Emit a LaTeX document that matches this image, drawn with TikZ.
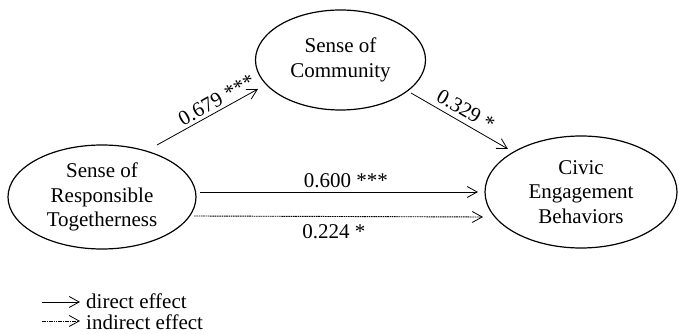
\documentclass[tikz,border=0pt]{standalone}
\usepackage{fontspec}
\setmainfont{Liberation Serif}
\usetikzlibrary{shapes.geometric,arrows.meta,calc}
\begin{document}
\begin{tikzpicture}[x=1pt,y=1pt,
  font=\fontsize{21}{24.5}\selectfont,
  latent/.style={ellipse,draw,line width=1.2pt,align=center,inner sep=0pt},
  effect/.style={line width=0.8pt,-{Straight Barb[length=10pt,width=11pt,line width=0.8pt]}},
  indirect/.style={line width=0.9pt,dash pattern=on 1.6pt off 0.7pt,-{Straight Barb[length=10pt,width=11pt,line width=0.8pt]}},
  lab/.style={inner sep=2pt}]
\useasboundingbox (0,0) rectangle (679,334);
\node[latent,minimum width=188pt,minimum height=104pt] (sort) at (102,137) {Sense of\\Responsible\\Togetherness};
\node[latent,minimum width=170pt,minimum height=100pt] (soc) at (340.5,274) {Sense of\\Community};
\node[latent,minimum width=192pt,minimum height=112pt] (ceb) at (581,142) {Civic\\Engagement\\Behaviors};
\draw[effect] ($(sort)+(55,52)$) -- node[lab,pos=0.64,sloped,above,inner sep=3pt] {0.679 ***} ($(soc)+(-82.5,-29)$);
\draw[effect] ($(soc)+(70.5,-33)$) -- node[lab,pos=0.5,sloped,above,inner sep=5pt] {0.329 *} ($(ceb)+(-73,43)$);
\draw[effect] ($(sort)+(98,5)$) -- node[lab,pos=0.525,above,inner sep=4pt] {0.600 ***} ($(ceb)+(-103,0)$);
\draw[indirect] ($(sort)+(92,-19)$) -- node[lab,pos=0.484,below,inner sep=8pt] {0.224 *} ($(ceb)+(-98,-25)$);
\node[anchor=west,inner sep=0pt] (ld) at (86,33) {direct effect};
\node[anchor=west,inner sep=0pt] (li) at (86,12) {indirect effect};
\coordinate (ld0) at (42,32);
\coordinate (li0) at (42,13);
\draw[effect] (ld0) -- (ld0 -| ld.west) [shorten >=6pt];
\draw[indirect] (li0) -- (li0 -| li.west) [shorten >=6pt];
\end{tikzpicture}
\end{document}
